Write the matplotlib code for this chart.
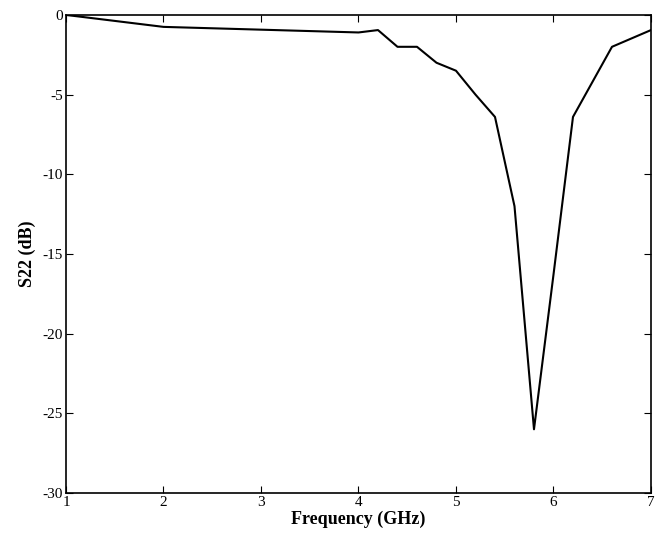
import numpy as np
import matplotlib
matplotlib.use("Agg")
import matplotlib.pyplot as plt

plt.rcParams['font.family'] = ['Liberation Serif', 'DejaVu Serif']
plt.rcParams['axes.unicode_minus'] = False

# S22 measurement
freq = [1.0, 2.0, 4.0, 4.2, 4.4, 4.6, 4.8, 5.0, 5.2, 5.4, 5.6, 5.8, 6.0, 6.2, 6.4, 6.6, 7.0]
s22 = [0.0, -0.75, -1.1, -0.95, -2.0, -2.0, -3.0, -3.5, -5.0, -6.4, -12.0, -26.0, -16.3, -6.4, -4.2, -2.0, -0.95]

xticks = [1, 2, 3, 4, 5, 6, 7]
yticks = [0, -5, -10, -15, -20, -25, -30]

fig = plt.figure(figsize=(6.64, 5.39), dpi=100)
ax = fig.add_axes([0.0994, 0.0853, 0.881, 0.887])
ax.plot(freq, s22, color='black', linewidth=1.5)

ax.set_xlim(1, 7)
ax.set_ylim(-30, 0)
ax.set_xticks(xticks)
ax.set_yticks(yticks)
ax.tick_params(direction='in', top=True, right=True, labelsize=11, length=5, pad=2)
for s in ax.spines.values():
    s.set_linewidth(1.2)

ax.set_xlabel('Frequency (GHz)', fontsize=13, fontweight='bold', labelpad=1)
ax.set_ylabel('S22 (dB)', fontsize=13, fontweight='bold', labelpad=5)

fig.savefig('out.png', dpi=100)
